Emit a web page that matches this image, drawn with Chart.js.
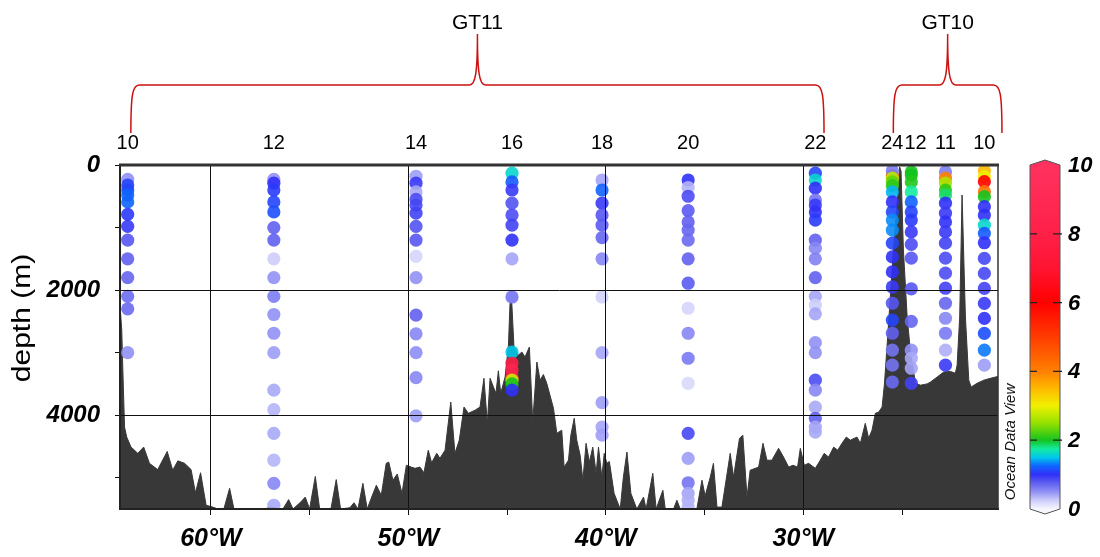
<!DOCTYPE html>
<html>
<head>
<meta charset="utf-8">
<script src="https://cdn.jsdelivr.net/npm/chart.js@4/dist/chart.umd.min.js"></script>
<style>
  html, body { margin: 0; padding: 0; background: #fff; }
  canvas { display: block; }
</style>
</head>
<body>
<canvas id="section" width="1100" height="557"></canvas>
<script>
// ---------------- data ----------------
// stations along the section (cruise, station number, longitude in degrees E)
const stationCruise = ['GT11','GT11','GT11','GT11','GT11','GT11','GT11','GT10','GT10','GT10','GT10'];
const stationNames  = ['10','12','14','16','18','20','22','24','12','11','10'];
const stationLon    = [-64.21,-56.81,-49.61,-44.75,-40.19,-35.83,-29.39,-25.49,-24.53,-22.80,-20.83];

// sample depths (m) per station
const stationDepths = [
  [230,320,400,480,590,790,980,1200,1500,1800,2100,2300,3000],
  [230,290,400,590,750,1000,1200,1500,1800,2100,2390,2690,3000,3600,3910,4290,4720,5090,5440],
  [180,290,430,550,640,770,980,1200,1460,1800,2400,2700,3000,3400,4010],
  [130,270,400,610,800,960,1200,1500,2110,2990,3170,3280,3390,3440,3500,3600],
  [240,400,610,800,960,1160,1500,2110,3000,3800,4190,4320],
  [240,360,500,730,910,1040,1200,1500,1890,2290,2690,3090,3490,4290,4690,5080,5250,5360,5470],
  [130,240,370,560,640,750,880,1200,1330,1500,1800,2100,2240,2380,2840,3000,3440,3600,3870,4050,4190,4270],
  [170,90,210,270,330,430,590,750,880,1040,1250,1470,1710,1950,2210,2480,2690,2960,3200,3470],
  [110,160,270,430,590,750,880,1070,1270,1490,1980,2500,2960,3090,3250,3490],
  [110,210,290,400,480,610,770,910,1070,1250,1490,1730,1970,2210,2450,2690,2960,3200],
  [91,187,267,427,507,667,800,960,1093,1243,1493,1733,1973,2213,2453,2693,2960,3200]
];

// measured values at those depths
const stationValues = [
  [0.5,1.1,1.1,1.25,1.25,1.05,0.95,0.8,0.75,0.72,0.68,0.7,0.5],
  [0.5,1.0,1.05,1.1,1.15,0.75,0.75,0.25,0.5,0.6,0.5,0.5,0.45,0.4,0.35,0.4,0.35,0.55,0.4],
  [0.45,0.95,0.4,0.85,0.88,0.9,0.82,0.8,0.2,0.5,0.75,0.55,0.52,0.55,0.45],
  [1.6,1.2,0.95,0.82,0.85,0.9,1.0,0.42,0.65,1.5,8.0,8.6,8.2,2.8,2.0,1.0],
  [0.42,1.25,0.95,0.8,0.78,0.72,0.55,0.22,0.42,0.45,0.42,0.44],
  [1.0,0.35,0.85,0.78,0.75,0.72,0.7,0.75,0.78,0.2,0.55,0.62,0.18,0.88,0.45,0.65,0.42,0.38,0.35],
  [1.1,1.6,1.0,0.65,0.95,1.0,1.05,0.75,0.55,0.58,0.75,0.42,0.25,0.42,0.5,0.5,0.85,0.55,0.4,0.75,0.42,0.4],
  [5.0,0.6,2.7,2.3,2.1,1.45,1.0,1.1,1.35,1.35,1.1,1.0,1.0,0.95,0.8,1.1,0.75,0.65,0.65,0.7],
  [2.0,2.0,2.05,1.75,1.25,1.1,1.05,0.95,0.85,0.8,0.8,0.72,0.5,0.4,0.42,0.9],
  [0.6,4.0,2.6,2.1,1.85,1.0,0.95,1.0,0.95,0.9,0.85,0.85,0.9,0.72,0.55,0.62,0.38,0.95],
  [3.5,3.0,6.0,4.2,2.0,1.0,1.0,1.6,1.2,1.0,0.88,0.88,0.9,0.95,1.0,1.15,1.3,0.45]
];

// seafloor profile along the section
const bathyLon = [
  -64.59,-64.51,-64.46,-64.37,-64.26,-64.04,-63.70,-63.40,-63.11,-62.69,-62.21,-61.93,-61.67,-61.33,-61.00,
  -60.78,-60.52,-60.24,-59.90,-59.65,-59.34,-59.05,-58.83,-57.26,-57.01,-56.35,-56.06,-55.84,-55.45,-55.22,
  -55.00,-54.71,-54.49,-53.92,-53.65,-53.43,-52.96,-52.75,-52.55,-52.30,-52.08,-51.88,-51.62,-51.37,-51.12,
  -50.99,-50.78,-50.56,-50.32,-50.10,-49.85,-49.66,-49.41,-49.21,-48.99,-48.82,-48.56,-48.40,-48.14,-47.85,
  -47.64,-47.42,-47.18,-46.96,-46.62,-46.37,-46.17,-46.00,-45.86,-45.69,-45.56,-45.44,-45.32,-45.10,-44.93,
  -44.85,-44.76,-44.65,-44.43,-44.25,-44.09,-43.87,-43.70,-43.49,-43.33,-43.16,-42.99,-42.65,-42.48,-42.23,
  -42.11,-41.89,-41.77,-41.60,-41.47,-41.30,-41.16,-41.00,-40.83,-40.66,-40.49,-40.37,-40.20,-40.08,-39.95,
  -39.82,-39.58,-39.27,-39.11,-38.93,-38.73,-38.43,-38.09,-37.96,-37.62,-37.45,-37.11,-36.99,-36.57,-36.40,
  -36.23,-35.39,-35.13,-34.97,-34.71,-34.55,-34.37,-34.12,-33.70,-33.53,-33.23,-33.06,-32.85,-32.69,-32.26,
  -32.04,-31.84,-31.59,-31.25,-31.00,-30.74,-30.52,-30.29,-30.15,-29.95,-29.73,-29.39,-29.14,-28.94,-28.72,
  -28.46,-28.26,-28.04,-27.82,-27.62,-27.28,-27.11,-26.86,-26.69,-26.52,-26.35,-26.18,-26.01,-25.89,-25.76,
  -25.59,-25.44,-25.24,-25.12,-25.05,-24.93,-24.74,-24.58,-24.32,-24.07,-23.73,-23.56,-23.22,-22.89,-22.55,
  -22.30,-22.21,-22.08,-21.96,-21.79,-21.62,-21.50,-21.20,-20.86,-20.52,-20.14
];
const bathyDepth = [
  2290,2640,3230,4190,4350,4510,4610,4510,4770,4870,4580,4880,4730,4770,4870,
  5240,4920,5440,5470,5500,5500,5170,5500,5500,5470,5500,5350,5500,5390,5310,
  5500,4980,5500,5500,5030,5500,5480,5400,5500,5090,5500,5330,5120,5280,4770,
  4750,5040,4940,5250,4800,4830,4850,4830,4920,4560,4760,4610,4690,4560,3790,
  4610,4400,3870,3970,3920,3870,3410,4130,3410,3550,3650,3290,3650,3390,2880,
  2210,2210,2910,3040,2990,3070,2910,4110,3150,3440,3350,3490,3890,4290,4240,
  4830,4720,4320,4050,4400,4640,5040,4450,4750,4510,4930,4510,4990,4610,4770,
  4740,5250,5500,4990,4590,5250,5500,5310,5500,4930,5500,5200,5500,5500,5360,
  5500,5500,5040,5290,4990,4770,5470,5470,4610,4990,4370,4320,5310,4880,4830,
  4450,4720,4720,4530,4670,4830,4800,4830,4530,4800,4770,4850,4720,4610,4670,
  4510,4560,4450,4350,4400,4350,4450,4130,4370,4240,3970,3950,3870,3500,2900,
  2100,1360,560,30,100,1360,2430,2960,3490,3520,3500,3470,3390,3310,3300,
  3330,3200,2430,480,2430,3440,3550,3490,3440,3410,3380
];

// axis ticks
const depthTicks = [0,1000,2000,3000,4000,5000];
const lonTicks   = [-60,-55,-50,-45,-40,-35,-30,-25];
const colorTicks = [0,2,4,6,8,10];

// cruise brackets: name and the longitude span of its stations
const cruiseNames = ['GT11','GT10'];
const cruiseWest  = [-64.05,-25.44];
const cruiseEast  = [-28.95,-19.94];

// colour scale (value -> rgb)
const cmapValues = [0,0.25,0.5,0.75,1.0,1.25,1.5,1.75,2.0,2.5,3.0,3.5,4.0,5.0,6.0,7.0,8.0,10.0];
const cmapColors = [
  [246,246,255],[205,205,250],[145,145,245],[96,96,240],[48,48,248],[16,100,255],
  [0,200,235],[20,235,160],[20,195,30],[150,225,0],[240,240,0],[255,185,0],
  [255,128,0],[255,60,0],[255,0,0],[255,20,50],[255,32,72],[255,50,95]
];

// ---------------- helpers ----------------
function rgbFor(v) {
  if (v <= cmapValues[0]) return cmapColors[0];
  for (let i = 1; i < cmapValues.length; i++) {
    if (v <= cmapValues[i]) {
      const t = (v - cmapValues[i-1]) / (cmapValues[i] - cmapValues[i-1]);
      const a = cmapColors[i-1], b = cmapColors[i];
      return [0,1,2].map(k => Math.round(a[k] + (b[k] - a[k]) * t));
    }
  }
  return cmapColors[cmapColors.length - 1];
}
function colorFor(v, alpha) {
  const c = rgbFor(v);
  return `rgba(${c[0]},${c[1]},${c[2]},${alpha})`;
}

const FONT = "'Liberation Sans', Arial, sans-serif";
Chart.defaults.font.family = FONT;
Chart.defaults.color = '#000';

// ---------------- datasets ----------------
const datasets = [];
datasets.push({
  type: 'line',
  label: 'seafloor',
  data: bathyLon.map((x, i) => ({ x: x, y: bathyDepth[i] })),
  borderColor: '#383838',
  borderWidth: 1,
  backgroundColor: '#383838',
  fill: 'start',
  pointRadius: 0,
  tension: 0,
  order: 2
});
stationDepths.forEach((depths, s) => {
  datasets.push({
    type: 'scatter',
    label: stationCruise[s] + ' ' + stationNames[s],
    data: depths.map(d => ({ x: stationLon[s], y: d })),
    pointRadius: 6.6,
    pointBorderWidth: 0,
    pointBackgroundColor: stationValues[s].map(v => colorFor(v, 0.9)),
    order: 1
  });
});

// ---------------- decorations ----------------
const decor = {
  id: 'decor',
  afterDraw(chart) {
    const ctx = chart.ctx;
    const area = chart.chartArea;
    const xs = chart.scales.x;
    const cb = chart.scales.cb;
    ctx.save();

    // frame: heavy top edge, thin right edge
    ctx.strokeStyle = '#333';
    ctx.lineWidth = 3;
    ctx.beginPath();
    ctx.moveTo(area.left - 1, area.top);
    ctx.lineTo(area.right + 1, area.top);
    ctx.stroke();
    ctx.lineWidth = 1.5;
    ctx.beginPath();
    ctx.moveTo(area.right, area.top);
    ctx.lineTo(area.right, area.bottom);
    ctx.stroke();

    // station numbers above the section
    ctx.font = '20px ' + FONT;
    ctx.fillStyle = '#000';
    ctx.textAlign = 'center';
    ctx.textBaseline = 'middle';
    let prevRight = -Infinity;
    stationNames.forEach((name, i) => {
      const w = ctx.measureText(name).width;
      let cx = xs.getPixelForValue(stationLon[i]);
      if (cx - w / 2 < prevRight + 1) cx = prevRight + 1 + w / 2;
      ctx.fillText(name, cx, 143);
      prevRight = cx + w / 2;
    });

    // cruise brackets
    ctx.strokeStyle = '#cc1111';
    ctx.lineWidth = 1.5;
    cruiseNames.forEach((name, i) => {
      const xl = xs.getPixelForValue(cruiseWest[i]);
      const xr = xs.getPixelForValue(cruiseEast[i]);
      const xm = (xl + xr) / 2;
      const yb = 133, yh = 85, yp = 34;
      ctx.beginPath();
      ctx.moveTo(xl, yb);
      ctx.bezierCurveTo(xl, yh + 10, xl + 1.5, yh, xl + 8.5, yh);
      ctx.lineTo(xm - 8, yh);
      ctx.bezierCurveTo(xm - 2, yh, xm, yh - 12, xm, yp);
      ctx.bezierCurveTo(xm, yh - 12, xm + 2, yh, xm + 8, yh);
      ctx.lineTo(xr - 8.5, yh);
      ctx.bezierCurveTo(xr - 1.5, yh, xr, yh + 10, xr, yb);
      ctx.stroke();
      ctx.font = '21px ' + FONT;
      ctx.fillStyle = '#000';
      ctx.textAlign = 'center';
      ctx.textBaseline = 'middle';
      ctx.fillText(name, xm, 23);
    });

    // colour bar
    const x0 = 1030, x1 = 1060, xc = (x0 + x1) / 2;
    const yTop = cb.getPixelForValue(10), yBot = cb.getPixelForValue(0);
    const grad = ctx.createLinearGradient(0, yBot, 0, yTop);
    cmapValues.forEach((v, i) => {
      const c = cmapColors[i];
      grad.addColorStop(v / 10, `rgb(${c[0]},${c[1]},${c[2]})`);
    });
    ctx.beginPath();
    ctx.moveTo(x0, yTop);
    ctx.lineTo(xc, yTop - 5);
    ctx.lineTo(x1, yTop);
    ctx.lineTo(x1, yBot);
    ctx.lineTo(xc, yBot + 5);
    ctx.lineTo(x0, yBot);
    ctx.closePath();
    ctx.fillStyle = grad;
    ctx.fill();
    ctx.strokeStyle = '#555';
    ctx.lineWidth = 1;
    ctx.stroke();
    ctx.strokeStyle = '#222';
    ctx.lineWidth = 1.3;
    ctx.font = 'italic bold 22px ' + FONT;
    ctx.fillStyle = '#000';
    ctx.textAlign = 'left';
    ctx.textBaseline = 'middle';
    colorTicks.forEach(v => {
      const y = cb.getPixelForValue(v);
      if (v > 0 && v < 10) {
        ctx.beginPath();
        ctx.moveTo(x0, y); ctx.lineTo(x0 + 7, y);
        ctx.moveTo(x1 - 7, y); ctx.lineTo(x1 + 2, y);
        ctx.stroke();
      }
      ctx.fillText(String(v), 1068, y + 1);
    });

    // software credit beside the colour bar
    ctx.save();
    ctx.translate(1011, 442);
    ctx.rotate(-Math.PI / 2);
    ctx.font = 'italic 15px ' + FONT;
    ctx.fillStyle = '#111';
    ctx.textAlign = 'center';
    ctx.textBaseline = 'middle';
    ctx.fillText('Ocean Data View', 0, 0);
    ctx.restore();

    // depth axis title
    ctx.save();
    ctx.translate(23, 318);
    ctx.rotate(-Math.PI / 2);
    ctx.scale(1.2, 1);
    ctx.font = '25px ' + FONT;
    ctx.fillStyle = '#000';
    ctx.textAlign = 'center';
    ctx.textBaseline = 'middle';
    ctx.fillText('depth (m)', 0, 0);
    ctx.restore();

    ctx.restore();
  }
};

// ---------------- chart ----------------
new Chart(document.getElementById('section'), {
  type: 'scatter',
  data: { datasets: datasets },
  options: {
    responsive: false,
    animation: false,
    events: [],
    layout: { padding: { left: 0, right: 102, top: 165, bottom: 0 } },
    plugins: { legend: { display: false }, tooltip: { enabled: false } },
    scales: {
      x: {
        type: 'linear',
        min: -64.6,
        max: -20.14,
        afterBuildTicks: s => { s.ticks = lonTicks.map(v => ({ value: v })); },
        afterFit: s => { s.height = 48; },
        grid: {
          color: c => (c.tick && c.tick.value % 10 === 0) ? '#111' : 'rgba(0,0,0,0)',
          lineWidth: 1,
          tickColor: '#111',
          tickLength: 6,
          z: 1
        },
        border: { display: true, color: '#222', width: 2, z: 2 },
        ticks: {
          autoSkip: false,
          maxRotation: 0,
          padding: 9,
          color: '#000',
          font: { size: 25, weight: 'bold', style: 'italic' },
          callback: v => (v % 10 === 0) ? Math.abs(v) + '°W' : ''
        }
      },
      y: {
        type: 'linear',
        reverse: true,
        min: 0,
        max: 5500,
        afterBuildTicks: s => { s.ticks = depthTicks.map(v => ({ value: v })); },
        afterFit: s => { s.width = 120; },
        grid: {
          color: c => (c.tick && c.tick.value > 0 && c.tick.value % 2000 === 0) ? '#111' : 'rgba(0,0,0,0)',
          lineWidth: 1,
          tickColor: '#111',
          tickLength: 5,
          z: 1
        },
        border: { display: true, color: '#222', width: 2, z: 2 },
        ticks: {
          padding: 15,
          color: '#000',
          font: { size: 24, weight: 'bold', style: 'italic' },
          callback: v => (v % 2000 === 0) ? String(v) : ''
        }
      },
      cb: {
        type: 'linear',
        position: 'right',
        min: 0,
        max: 10,
        display: false
      }
    }
  },
  plugins: [decor]
});
</script>
</body>
</html>
